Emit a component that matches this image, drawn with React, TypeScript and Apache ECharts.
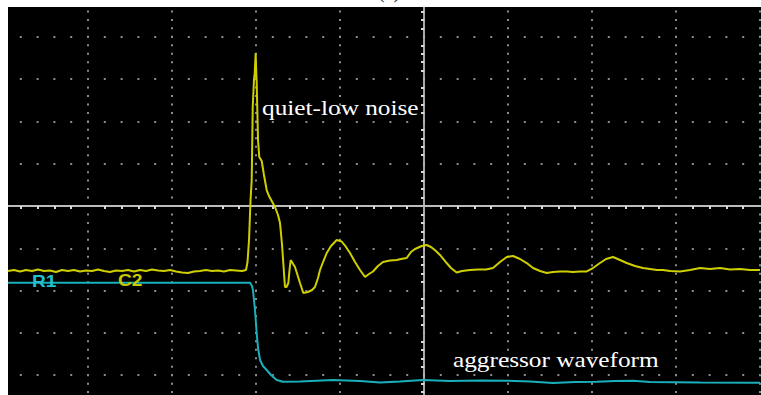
import React, { useEffect, useRef } from "react";
import * as echarts from "echarts";

// Time in horizontal divisions (0 = trigger/centre), voltage in vertical divisions
const c2Trace: [number, number][] = [
  [-4.952, -1.537], [-4.881, -1.513], [-4.81, -1.548], [-4.738, -1.513], [-4.667, -1.537],
  [-4.595, -1.501], [-4.524, -1.537], [-4.452, -1.525], [-4.381, -1.56], [-4.31, -1.513],
  [-4.238, -1.537], [-4.167, -1.513], [-4.095, -1.548], [-4.024, -1.525], [-3.952, -1.537],
  [-3.881, -1.501], [-3.81, -1.537], [-3.738, -1.56], [-3.667, -1.525], [-3.595, -1.537],
  [-3.524, -1.513], [-3.452, -1.548], [-3.381, -1.513], [-3.31, -1.537], [-3.238, -1.501],
  [-3.167, -1.525], [-3.095, -1.537], [-3.024, -1.513], [-2.952, -1.548], [-2.881, -1.572],
  [-2.81, -1.584], [-2.738, -1.548], [-2.667, -1.537], [-2.595, -1.513], [-2.524, -1.537],
  [-2.452, -1.525], [-2.381, -1.548], [-2.31, -1.513], [-2.238, -1.525], [-2.167, -1.537],
  [-2.119, -1.513],
  [-2.101, -1.324], [-2.083, -0.804], [-2.065, 0.142], [-2.051, 0.615], [-2.039, 2.34],
  [-2.024, 2.979], [-2.015, 3.144], [-2.004, 3.617], [-1.996, 3.097], [-1.992, 2.931],
  [-1.985, 2.34], [-1.976, 1.56], [-1.961, 1.158], [-1.932, 1.064], [-1.905, 0.733],
  [-1.873, 0.378], [-1.845, 0.236], [-1.813, 0.118], [-1.774, -0.024], [-1.738, -0.213],
  [-1.714, -0.402], [-1.69, -0.922], [-1.675, -1.348], [-1.655, -1.915], [-1.637, -1.915],
  [-1.615, -1.82], [-1.601, -1.513], [-1.587, -1.277], [-1.565, -1.348], [-1.536, -1.442],
  [-1.506, -1.631], [-1.476, -1.82], [-1.437, -2.057], [-1.381, -2.033], [-1.333, -1.986],
  [-1.298, -1.915], [-1.262, -1.702], [-1.238, -1.513], [-1.202, -1.324], [-1.158, -1.111],
  [-1.107, -0.946], [-1.039, -0.804], [-0.98, -0.839], [-0.929, -0.969], [-0.881, -1.111],
  [-0.821, -1.324], [-0.762, -1.513], [-0.702, -1.678], [-0.655, -1.608], [-0.607, -1.548],
  [-0.548, -1.418], [-0.488, -1.324], [-0.405, -1.288], [-0.325, -1.277], [-0.274, -1.253],
  [-0.206, -1.229], [-0.155, -1.087], [-0.107, -1.017], [-0.027, -0.946], [0.032, -0.922],
  [0.083, -0.969], [0.143, -1.064], [0.19, -1.158], [0.27, -1.348], [0.321, -1.466],
  [0.389, -1.572], [0.452, -1.537], [0.548, -1.513], [0.643, -1.501], [0.738, -1.501],
  [0.821, -1.466], [0.905, -1.324], [0.985, -1.206], [1.06, -1.182], [1.143, -1.253],
  [1.223, -1.348], [1.298, -1.466], [1.381, -1.537], [1.461, -1.584], [1.536, -1.56],
  [1.619, -1.548], [1.699, -1.548], [1.774, -1.56], [1.857, -1.548], [1.937, -1.548],
  [2.012, -1.466], [2.095, -1.348], [2.167, -1.253], [2.25, -1.206], [2.333, -1.277],
  [2.413, -1.348], [2.512, -1.418], [2.607, -1.466], [2.69, -1.489], [2.774, -1.513],
  [2.845, -1.513], [2.929, -1.537], [3.048, -1.548], [3.167, -1.513], [3.286, -1.466],
  [3.405, -1.489], [3.524, -1.466], [3.643, -1.501], [3.762, -1.489], [3.881, -1.513],
  [4.0, -1.513],
];

const r1Time = [
  -4.952, -2.095, -2.071, -2.048, -2.036, -2.012, -1.992, -1.976, -1.952, -1.917, -1.873,
  -1.821, -1.754, -1.679, -1.476, -1.083, -0.762, -0.524, -0.286, -0.012, 0.31, 0.667,
  0.988, 1.262, 1.536, 1.798, 2.06, 2.274, 2.488, 2.69, 3.286, 4.0,
];
const r1Volt = [
  -1.813, -1.813, -1.813, -1.891, -1.986, -2.459, -3.002, -3.357, -3.641, -3.783, -3.877,
  -3.995, -4.113, -4.154, -4.149, -4.113, -4.137, -4.173, -4.149, -4.113, -4.137, -4.125,
  -4.13, -4.149, -4.184, -4.161, -4.154, -4.137, -4.13, -4.161, -4.173, -4.177,
];

const channelLabels = ["R1", "C2"];
const annotations = ["quiet-low noise", "aggressor waveform"];
const panelTitle = "(c)";

export default function App() {
  const ref = useRef<HTMLDivElement>(null);
  useEffect(() => {
    if (!ref.current) return;
    const chart = echarts.init(ref.current, undefined, { renderer: "svg" });
    const r1Data = r1Time.map((t, i) => [t, r1Volt[i]]);
    const dotColor = "#8c8c8c";
    const serif = "'Liberation Serif', 'DejaVu Serif', serif";
    chart.setOption({
      animation: false,
      backgroundColor: "#000",
      grid: {
        left: 4, right: 1, top: -5.5, bottom: -22.5, show: false,
        outerBoundsMode: "none", containLabel: false,
      },
      xAxis: {
        type: "value",
        min: -5,
        max: 4,
        interval: 1,
        axisLine: { show: true, onZero: true, lineStyle: { color: "#bcbcbc", width: 1.8 } },
        axisTick: { show: false },
        minorTick: { show: true, splitNumber: 5, length: 3, lineStyle: { color: "#d8d8d8", width: 2 } },
        axisLabel: { show: false },
        splitLine: {
          show: true,
          lineStyle: { color: dotColor, width: 2, type: [2, 6.46], dashOffset: 1 },
        },
      },
      yAxis: {
        type: "value",
        min: -5,
        max: 5,
        interval: 1,
        axisLine: { show: true, onZero: true, lineStyle: { color: "#bcbcbc", width: 1.8 } },
        axisTick: { show: false },
        minorTick: { show: true, splitNumber: 5, length: 3, lineStyle: { color: "#d8d8d8", width: 2 } },
        axisLabel: { show: false },
        splitLine: {
          show: true,
          lineStyle: { color: dotColor, width: 2, type: [2, 14.8], dashOffset: 1 },
        },
      },
      series: [
        {
          name: "R1",
          type: "line",
          data: r1Data,
          showSymbol: false,
          lineStyle: { color: "#19b0bc", width: 2 },
          z: 3,
        },
        {
          name: "C2",
          type: "line",
          data: c2Trace,
          showSymbol: false,
          lineStyle: { color: "#cfcf00", width: 2 },
          z: 4,
        },
      ],
      graphic: [
        { type: "rect", z: 100, shape: { x: 0, y: 0, width: 8, height: 395 }, style: { fill: "#fff" } },
        { type: "rect", z: 100, shape: { x: 0, y: 0, width: 761, height: 7 }, style: { fill: "#fff" } },
        {
          type: "text", z: 101, x: 389, y: -8.75,
          style: { text: panelTitle, fill: "#333", font: `20px ${serif}`, textAlign: "center", textVerticalAlign: "middle" },
        },
        {
          type: "text", z: 50, x: 32, y: 282, scaleX: 1.2,
          style: { text: channelLabels[0], fill: "#22c0cc", font: `bold 16px 'Liberation Sans', Arial, sans-serif`, textAlign: "left", textVerticalAlign: "middle" },
        },
        {
          type: "text", z: 50, x: 118, y: 281, scaleX: 1.2,
          style: { text: channelLabels[1], fill: "#c8c800", font: `bold 16px 'Liberation Sans', Arial, sans-serif`, textAlign: "left", textVerticalAlign: "middle" },
        },
        {
          type: "text", z: 50, x: 262, y: 107.6, scaleX: 1.15,
          style: { text: annotations[0], fill: "#fff", font: `22px ${serif}`, textAlign: "left", textVerticalAlign: "middle" },
        },
        {
          type: "text", z: 50, x: 453, y: 359.6, scaleX: 1.15,
          style: { text: annotations[1], fill: "#fff", font: `22px ${serif}`, textAlign: "left", textVerticalAlign: "middle" },
        },
      ],
    });
    return () => chart.dispose();
  }, []);
  return (
    <div
      ref={ref}
      style={{ position: "absolute", left: 0, top: 0, width: 761, height: 395 }}
    />
  );
}
